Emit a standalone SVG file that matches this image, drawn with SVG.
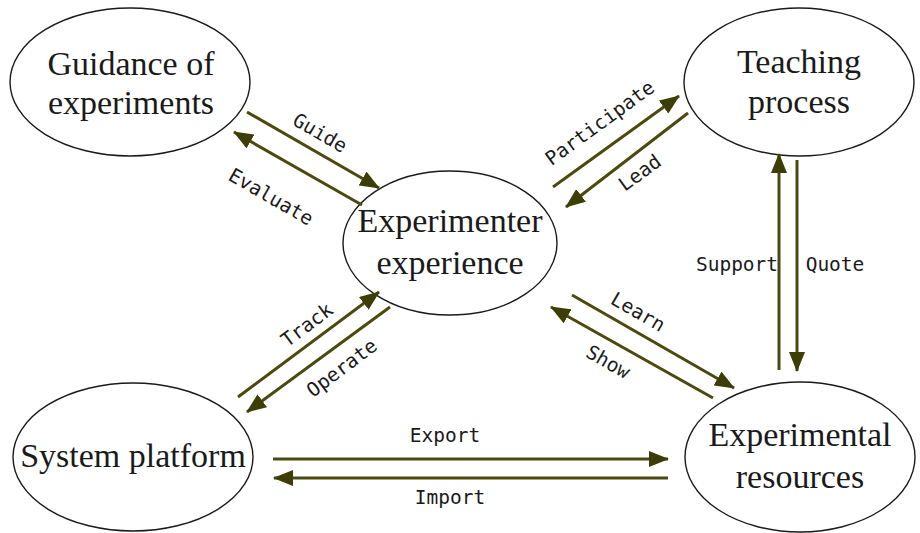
<svg xmlns="http://www.w3.org/2000/svg" width="920" height="533" viewBox="0 0 920 533">
<style>
.node{fill:#fff;stroke:#1a1a1a;stroke-width:1.4}
.nt{font-family:"Liberation Serif","Times New Roman",serif;font-size:34px;fill:#1a1a1a;text-anchor:middle}
.c{stroke:#4a4a0e;stroke-width:3;fill:none;marker-end:url(#ah)}
.lb{font-family:"DejaVu Sans Mono","Liberation Mono",monospace;font-size:19.5px;fill:#1a1a1a;text-anchor:middle;dominant-baseline:central}
</style>
<defs>
<marker id="ah" markerUnits="userSpaceOnUse" markerWidth="20" markerHeight="16" viewBox="0 0 20 16" refX="19" refY="8" orient="auto">
<path d="M0,0 L20,8 L0,16 Z" fill="#3d3d06"/>
</marker>
</defs>
<rect width="920" height="533" fill="#fff"/>
<g id="guidance">
<ellipse class="node" cx="130" cy="82" rx="120" ry="74"/>
<text class="nt" x="131" y="75">Guidance of</text>
<text class="nt" x="131" y="114">experiments</text>
</g>
<g id="teaching">
<ellipse class="node" cx="799" cy="82" rx="115" ry="74"/>
<text class="nt" x="799" y="73">Teaching</text>
<text class="nt" x="799" y="113">process</text>
</g>
<g id="experimenter">
<ellipse class="node" cx="450" cy="243" rx="107" ry="72"/>
<text class="nt" x="450" y="232">Experimenter</text>
<text class="nt" x="450" y="274">experience</text>
</g>
<g id="system">
<ellipse class="node" cx="133" cy="457" rx="120" ry="74"/>
<text class="nt" x="133" y="467">System platform</text>
</g>
<g id="resources">
<ellipse class="node" cx="800" cy="457" rx="115" ry="75"/>
<text class="nt" x="800" y="446">Experimental</text>
<text class="nt" x="800" y="488">resources</text>
</g>
<g id="connectors">
<line class="c" x1="247" y1="112" x2="379" y2="188"/>
<line class="c" x1="362" y1="205" x2="234" y2="132"/>
<line class="c" x1="553" y1="187" x2="679" y2="96"/>
<line class="c" x1="688" y1="113" x2="566" y2="207"/>
<line class="c" x1="238" y1="397" x2="379" y2="292"/>
<line class="c" x1="390" y1="307" x2="247" y2="412"/>
<line class="c" x1="572" y1="295" x2="734" y2="388"/>
<line class="c" x1="713" y1="398" x2="551" y2="307"/>
<line class="c" x1="273" y1="459" x2="668" y2="459"/>
<line class="c" x1="668" y1="478" x2="274" y2="478"/>
<line class="c" x1="779" y1="370" x2="779" y2="154"/>
<line class="c" x1="797" y1="160" x2="797" y2="371"/>
<text class="lb" transform="translate(320,133) rotate(30)">Guide</text>
<text class="lb" transform="translate(271,197) rotate(30)">Evaluate</text>
<text class="lb" transform="translate(600,123) rotate(-36)">Participate</text>
<text class="lb" transform="translate(640,173) rotate(-36)">Lead</text>
<text class="lb" transform="translate(307,325) rotate(-37)">Track</text>
<text class="lb" transform="translate(342,368) rotate(-37)">Operate</text>
<text class="lb" transform="translate(638,312) rotate(30)">Learn</text>
<text class="lb" transform="translate(608,362) rotate(30)">Show</text>
<text class="lb" x="445" y="435">Export</text>
<text class="lb" x="450" y="497">Import</text>
<text class="lb" x="737" y="264">Support</text>
<text class="lb" x="835" y="264">Quote</text>
</g>
</svg>
